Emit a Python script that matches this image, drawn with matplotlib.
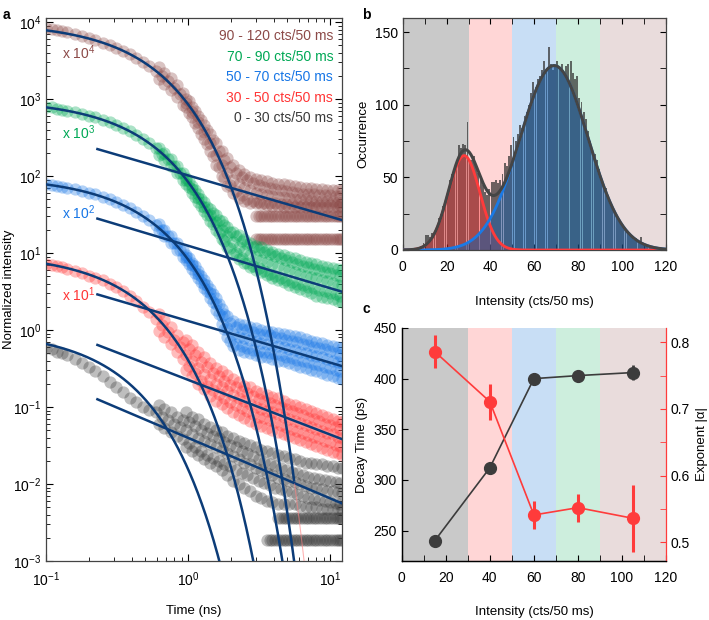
import numpy as np
import matplotlib
matplotlib.use('Agg')
import matplotlib.pyplot as plt
from matplotlib.ticker import LogLocator, MultipleLocator, NullFormatter

plt.rcParams['font.family'] = ['Liberation Sans', 'DejaVu Sans']
plt.rcParams['mathtext.fontset'] = 'custom'
plt.rcParams['mathtext.rm'] = 'Liberation Sans'
plt.rcParams['mathtext.it'] = 'Liberation Sans:italic'
plt.rcParams['mathtext.bf'] = 'Liberation Sans:bold'
plt.rcParams['font.size'] = 10
plt.rcParams['axes.linewidth'] = 0.9

# intensity groups (0-30, 30-50, 50-70, 70-90, 90-120 cts/50 ms)
groups = ['0 - 30 cts/50 ms', '30 - 50 cts/50 ms', '50 - 70 cts/50 ms',
          '70 - 90 cts/50 ms', '90 - 120 cts/50 ms']
colors = ['#3a3a3a', '#ff3535', '#1776e6', '#00a855', '#8c4a48']
scales = [1, 10, 100, 1000, 10000]
scale_labels = ['', 'x 10$^1$', 'x 10$^2$', 'x 10$^3$', 'x 10$^4$']
band_edges = [0, 30, 50, 70, 90, 120]
band_colors = ['#c9c9c9', '#ffd6d6', '#c8def5', '#cdeedd', '#e9dcdc']

# panel c: fit results per group
c_x = [15, 40, 60, 80, 105]
decay_ps = [240, 312, 400, 403, 406]
decay_err = [2, 3, 3, 4, 7]
alpha_exp = [0.786, 0.711, 0.541, 0.552, 0.536]
alpha_err = [0.025, 0.027, 0.021, 0.021, 0.05]

# power-law tails: normalized amplitude at t0
pl_t0 = 0.23
pl_amp = [0.126, 0.064, 0.029, 0.028, 0.0224]

# panel a: normalized decays
t_ns = [0.10, 0.11, 0.12, 0.13, 0.14, 0.16, 0.18, 0.20, 0.22, 0.25,
        0.28, 0.31, 0.35, 0.39, 0.43, 0.48, 0.53, 0.59, 0.65, 0.72,
        0.80, 0.88, 0.97, 1.07, 1.18, 1.30, 1.43, 1.57, 1.72, 1.89,
        2.07, 2.27, 2.49, 2.73, 2.99, 3.27, 3.58, 3.92, 4.29, 4.69,
        5.13, 5.61, 6.13, 6.70, 7.32, 8.00, 8.74, 9.55, 10.4, 11.4, 12.0]
t_tail = t_ns[22:]
t_mid = [0.62, 0.68, 0.76, 0.84, 0.92, 1.02, 1.12, 1.24, 1.36, 1.50,
         1.64, 1.80, 1.98, 2.17, 2.38, 2.61, 2.86, 3.13, 3.42, 3.75,
         4.10, 4.49, 4.90, 5.36, 5.86, 6.41, 7.00, 7.65, 8.36, 9.14,
         9.97, 10.9, 11.7]

black_mid = [0.58, 0.56, 0.52, 0.50, 0.47, 0.42, 0.37, 0.33, 0.29, 0.25,
             0.21, 0.18, 0.155, 0.13, 0.115, 0.10, 0.092, 0.085, 0.075, 0.068,
             0.060, 0.055,
             0.050, 0.045, 0.040, 0.036, 0.033, 0.030, 0.028, 0.025, 0.023, 0.021,
             0.019, 0.018, 0.016, 0.015, 0.014, 0.013, 0.012, 0.0115, 0.011, 0.0105,
             0.010, 0.0095, 0.009, 0.0088, 0.0085, 0.0082, 0.008, 0.0078, 0.0077]
red_mid = [0.72, 0.70, 0.67, 0.65, 0.62, 0.58, 0.55, 0.51, 0.48, 0.44,
           0.40, 0.36, 0.32, 0.28, 0.24, 0.20, 0.17, 0.14, 0.115, 0.095,
           0.075, 0.06,
           0.048, 0.04, 0.032, 0.027, 0.023, 0.020, 0.018, 0.016, 0.0145, 0.013,
           0.012, 0.011, 0.010, 0.0095, 0.009, 0.0085, 0.008, 0.0075, 0.007, 0.0066,
           0.0062, 0.0058, 0.0055, 0.0052, 0.0049, 0.0046, 0.0044, 0.0041, 0.004]
blue_mid = [0.78, 0.76, 0.74, 0.72, 0.70, 0.67, 0.64, 0.61, 0.58, 0.54,
            0.50, 0.46, 0.42, 0.38, 0.34, 0.30, 0.265, 0.23, 0.197, 0.165,
            0.135, 0.11,
            0.088, 0.069, 0.053, 0.040, 0.030, 0.022, 0.015, 0.0105, 0.0088, 0.0082,
            0.0078, 0.0074, 0.0071, 0.0068, 0.0066, 0.0064, 0.0062, 0.006, 0.0057, 0.0055,
            0.0052, 0.005, 0.0048, 0.0046, 0.0044, 0.0042, 0.004, 0.0038, 0.0037]
green_mid = [0.80, 0.78, 0.75, 0.73, 0.71, 0.67, 0.64, 0.61, 0.58, 0.54,
             0.50, 0.46, 0.42, 0.38, 0.34, 0.30, 0.265, 0.23, 0.195, 0.165,
             0.135, 0.11,
             0.088, 0.068, 0.052, 0.040, 0.031, 0.025, 0.020, 0.0165, 0.014, 0.012,
             0.0105, 0.0095, 0.0088, 0.0082, 0.0077, 0.0072, 0.0068, 0.0064, 0.006, 0.0057,
             0.0054, 0.0051, 0.0049, 0.0047, 0.0045, 0.0043, 0.0041, 0.0039, 0.0038]
brown_mid = [0.84, 0.82, 0.79, 0.77, 0.74, 0.70, 0.66, 0.62, 0.58, 0.54,
             0.50, 0.46, 0.42, 0.38, 0.34, 0.30, 0.27, 0.23, 0.20, 0.17,
             0.14, 0.115,
             0.088, 0.068, 0.05, 0.037, 0.027, 0.019, 0.014, 0.011, 0.009, 0.0078,
             0.007, 0.0065, 0.006, 0.0058, 0.0056, 0.0055, 0.0054, 0.0053, 0.0052, 0.0051,
             0.005, 0.005, 0.0049, 0.0048, 0.0048, 0.0047, 0.0047, 0.0046, 0.0046]

# upper / lower edge of the noisy tail (t >= 0.97 ns)
black_hi = [0.085, 0.075, 0.07, 0.06, 0.055, 0.05, 0.047, 0.042, 0.04, 0.036,
            0.034, 0.032, 0.03, 0.028, 0.027, 0.025, 0.024, 0.023, 0.022, 0.021,
            0.02, 0.019, 0.019, 0.018, 0.018, 0.017, 0.017, 0.016, 0.016]
black_lo = [0.03, 0.027, 0.024, 0.021, 0.019, 0.017, 0.015, 0.013, 0.011, 0.010,
            0.009, 0.008, 0.007, 0.0065, 0.006, 0.0058, 0.0055, 0.0055, 0.0055, 0.0055,
            0.0052, 0.005, 0.005, 0.005, 0.0048, 0.0048, 0.0048, 0.0047, 0.0047]
red_hi = [0.075, 0.064, 0.052, 0.044, 0.037, 0.032, 0.029, 0.026, 0.023, 0.021,
          0.019, 0.018, 0.016, 0.015, 0.0145, 0.0135, 0.013, 0.012, 0.011, 0.0105,
          0.010, 0.0093, 0.0088, 0.0083, 0.0078, 0.0074, 0.007, 0.0066, 0.0064]
red_lo = [0.03, 0.025, 0.02, 0.017, 0.014, 0.012, 0.011, 0.0097, 0.0087, 0.0078,
          0.0072, 0.0066, 0.006, 0.0057, 0.0054, 0.0051, 0.0048, 0.0045, 0.0042, 0.004,
          0.0037, 0.0035, 0.0033, 0.0031, 0.0029, 0.0028, 0.0026, 0.0025, 0.0024]
blue_hi = [0.095, 0.075, 0.058, 0.044, 0.034, 0.026, 0.019, 0.015, 0.013, 0.012,
           0.0115, 0.011, 0.0105, 0.010, 0.0098, 0.0095, 0.0092, 0.009, 0.0086, 0.0083,
           0.008, 0.0076, 0.0073, 0.007, 0.0067, 0.0064, 0.0062, 0.006, 0.0058]
blue_lo = [0.08, 0.062, 0.047, 0.035, 0.026, 0.018, 0.012, 0.008, 0.0062, 0.0055,
           0.0052, 0.005, 0.0047, 0.0045, 0.0044, 0.0042, 0.004, 0.0039, 0.0037, 0.0035,
           0.0033, 0.0032, 0.003, 0.0029, 0.0028, 0.0026, 0.0025, 0.0024, 0.0023]
green_hi = [0.095, 0.075, 0.058, 0.046, 0.037, 0.031, 0.026, 0.022, 0.019, 0.017,
            0.015, 0.0135, 0.0125, 0.0118, 0.011, 0.0104, 0.0098, 0.0094, 0.009, 0.0085,
            0.0081, 0.0077, 0.0074, 0.0071, 0.0068, 0.0066, 0.0064, 0.0062, 0.006]
green_lo = [0.08, 0.061, 0.046, 0.035, 0.026, 0.020, 0.015, 0.012, 0.0098, 0.0084,
            0.0074, 0.0066, 0.006, 0.0056, 0.0052, 0.0048, 0.0045, 0.0042, 0.0039, 0.0036,
            0.0034, 0.0032, 0.0030, 0.0028, 0.0027, 0.0026, 0.0025, 0.0024, 0.0023]
brown_hi = [0.1, 0.078, 0.06, 0.046, 0.035, 0.027, 0.021, 0.017, 0.014, 0.012,
            0.0105, 0.0098, 0.0092, 0.0088, 0.0085, 0.0082, 0.008, 0.0078, 0.0076, 0.0074,
            0.0072, 0.007, 0.0069, 0.0068, 0.0067, 0.0066, 0.0066, 0.0065, 0.0065]
brown_lo = [0.078, 0.058, 0.042, 0.03, 0.021, 0.014, 0.01, 0.0075, 0.006, 0.0052,
            0.0047, 0.0045, 0.0044, 0.0043, 0.0042, 0.0041, 0.0041, 0.004, 0.004, 0.004,
            0.004, 0.004, 0.004, 0.004, 0.004, 0.004, 0.004, 0.004, 0.004]

# in-between points of the band, on the staggered time grid t_mid
black_up = [0.105, 0.095, 0.085, 0.075, 0.068, 0.063, 0.057, 0.051, 0.046, 0.042,
            0.039, 0.035, 0.032, 0.03, 0.027, 0.025, 0.023, 0.021, 0.0195, 0.018,
            0.017, 0.016, 0.015, 0.0145, 0.0138, 0.0132, 0.0125, 0.012, 0.0116, 0.0112,
            0.011, 0.0107, 0.0104]
black_dn = [0.06, 0.053, 0.047, 0.042, 0.038, 0.034, 0.03, 0.027, 0.024, 0.022,
            0.02, 0.018, 0.017, 0.015, 0.014, 0.013, 0.012, 0.011, 0.0104, 0.0097,
            0.009, 0.0085, 0.008, 0.0078, 0.0074, 0.007, 0.0066, 0.0064, 0.0062, 0.006,
            0.0058, 0.0057, 0.0055]
red_up = [0.16, 0.135, 0.11, 0.087, 0.07, 0.057, 0.047, 0.038, 0.033, 0.028,
          0.025, 0.022, 0.0195, 0.018, 0.016, 0.015, 0.0137, 0.0126, 0.012, 0.0113,
          0.0107, 0.01, 0.0094, 0.0088, 0.0083, 0.0078, 0.0073, 0.0069, 0.0065, 0.0061,
          0.0059, 0.0055, 0.0052]
red_dn = [0.098, 0.081, 0.065, 0.052, 0.042, 0.034, 0.028, 0.022, 0.019, 0.0166,
          0.0146, 0.0131, 0.0116, 0.0105, 0.0096, 0.0089, 0.0081, 0.0075, 0.0071, 0.0067,
          0.0063, 0.0059, 0.0055, 0.0052, 0.0049, 0.0046, 0.0043, 0.0041, 0.0039, 0.0036,
          0.0035, 0.0032, 0.0031]
blue_up = [0.235, 0.198, 0.165, 0.134, 0.109, 0.086, 0.067, 0.051, 0.039, 0.029,
           0.022, 0.016, 0.0125, 0.011, 0.0104, 0.0099, 0.0094, 0.009, 0.0087, 0.0085,
           0.0082, 0.0079, 0.0075, 0.0073, 0.0069, 0.0066, 0.0064, 0.0061, 0.0059, 0.0056,
           0.0053, 0.0051, 0.0048]
blue_dn = [0.194, 0.164, 0.136, 0.111, 0.09, 0.071, 0.055, 0.042, 0.032, 0.023,
           0.016, 0.0102, 0.0073, 0.0065, 0.0062, 0.0058, 0.0055, 0.0053, 0.0052, 0.005,
           0.0049, 0.0047, 0.0045, 0.0043, 0.0041, 0.0039, 0.0038, 0.0036, 0.0035, 0.0033,
           0.0032, 0.003, 0.0029]
green_up = [0.23, 0.198, 0.165, 0.134, 0.109, 0.086, 0.066, 0.051, 0.04, 0.033,
            0.027, 0.023, 0.019, 0.0165, 0.0145, 0.013, 0.0118, 0.011, 0.0103, 0.0096,
            0.0091, 0.0086, 0.0081, 0.0076, 0.0072, 0.0068, 0.0065, 0.0062, 0.006, 0.0057,
            0.0055, 0.0052, 0.005]
green_dn = [0.19, 0.163, 0.136, 0.111, 0.09, 0.071, 0.054, 0.041, 0.031, 0.024,
            0.018, 0.0142, 0.0117, 0.0099, 0.0085, 0.0075, 0.0068, 0.0063, 0.0058, 0.0054,
            0.0051, 0.0048, 0.0045, 0.0042, 0.004, 0.0038, 0.0036, 0.0035, 0.0033, 0.0032,
            0.003, 0.0029, 0.0028]
brown_up = [0.26, 0.22, 0.186, 0.152, 0.12, 0.094, 0.071, 0.053, 0.04, 0.029,
            0.021, 0.016, 0.013, 0.011, 0.0098, 0.0088, 0.0082, 0.0077, 0.0073, 0.007,
            0.0068, 0.0066, 0.0064, 0.0062, 0.006, 0.0059, 0.0058, 0.0058, 0.0057, 0.0056,
            0.0056, 0.0055, 0.0055]
brown_dn = [0.18, 0.155, 0.13, 0.106, 0.084, 0.065, 0.049, 0.035, 0.026, 0.018,
            0.013, 0.0095, 0.0076, 0.0064, 0.0056, 0.0051, 0.0048, 0.0046, 0.0045, 0.0044,
            0.0044, 0.0043, 0.0043, 0.0043, 0.0042, 0.0042, 0.0042, 0.0042, 0.0042, 0.0042,
            0.0042, 0.0042, 0.0042]

mids = [black_mid, red_mid, blue_mid, green_mid, brown_mid]
his = [black_hi, red_hi, blue_hi, green_hi, brown_hi]
los = [black_lo, red_lo, blue_lo, green_lo, brown_lo]
ups = [black_up, red_up, blue_up, green_up, brown_up]
dns = [black_dn, red_dn, blue_dn, green_dn, brown_dn]

# single/double photon count levels in the tail
floor_group = [0, 0, 4, 4]
floor_level = [0.0036, 0.0019, 0.0030, 0.0015]
floor_start = [4.2, 3.5, 2.9, 2.9]

# panel b: intensity histogram (1 cts bins, 0..119)
hist_counts = [0, 0, 0, 0, 0, 1, 1, 2, 3, 5,
               10, 10, 9, 12, 13, 16, 22, 25, 30, 35,
               40, 48, 52, 55, 60, 72, 70, 73, 72, 88,
               62, 62, 65, 58, 53, 50, 45, 40, 38, 42,
               47, 47, 48, 46, 48, 52, 60, 58, 65, 72,
               78, 75, 80, 86, 84, 92, 95, 100, 108, 116,
               112, 118, 120, 124, 130, 125, 140, 128, 124, 126,
               130, 125, 128, 122, 127, 128, 130, 122, 118, 120,
               105, 102, 95, 90, 82, 75, 70, 66, 62, 56,
               50, 46, 43, 38, 34, 30, 27, 22, 20, 18,
               15, 13, 12, 10, 9, 7, 8, 6, 9, 5,
               4, 3, 2, 2, 1, 1, 0, 1, 0, 0]
gauss_amp = [65, 127]
gauss_mu = [28, 69]
gauss_sigma = [7.2, 15.5]

navy = '#0c3c78'

fig = plt.figure(figsize=(7.09, 6.20), dpi=100)
ax_a = fig.add_axes([0.0649, 0.0952, 0.4175, 0.8758])
ax_b = fig.add_axes([0.568, 0.5968, 0.3714, 0.3747])
ax_c = fig.add_axes([0.5666, 0.0952, 0.3728, 0.3758])

# ---------------- panel a ----------------
for i in [4, 3, 2, 1, 0]:
    s = scales[i]
    kw = dict(s=78, color=colors[i], alpha=0.33, linewidths=0, zorder=2)
    ax_a.scatter(t_ns, np.array(mids[i]) * s, **kw)
    ax_a.scatter(t_tail, np.array(his[i]) * s, **kw)
    ax_a.scatter(t_tail, np.array(los[i]) * s, **kw)
    ax_a.scatter(t_mid, np.array(ups[i]) * s, **kw)
    ax_a.scatter(t_mid, np.array(dns[i]) * s, **kw)
    for g, lvl, t0 in zip(floor_group, floor_level, floor_start):
        if g == i:
            tf = [tv for tv in t_ns + t_mid if tv >= t0]
            ax_a.scatter(tf, [lvl * s] * len(tf), **kw)

tt = np.logspace(-1, np.log10(12.1), 600)
for i in range(5):
    y = scales[i] * np.exp(-tt / (decay_ps[i] / 1000.0))
    if i == 4:
        ax_a.plot(tt[y >= 0.01], y[y >= 0.01], color=navy, lw=1.8, zorder=4)
        ax_a.plot(tt[y < 0.01], y[y < 0.01], color='#ff8080', lw=0.8, alpha=0.6, zorder=4)
    else:
        ax_a.plot(tt, y, color=navy, lw=1.8, zorder=4)
    tp = np.logspace(np.log10(pl_t0), np.log10(12.1), 100)
    ax_a.plot(tp, pl_amp[i] * scales[i] * (tp / pl_t0) ** (-alpha_exp[i]),
              color=navy, lw=1.8, zorder=4)

ax_a.set_xscale('log')
ax_a.set_yscale('log')
ax_a.set_xlim(0.1, 12.1)
ax_a.set_ylim(1e-3, 1.13e4)
ax_a.yaxis.set_major_locator(LogLocator(base=10, numticks=20))
ax_a.yaxis.set_minor_locator(LogLocator(base=10, subs=np.arange(2, 10), numticks=20))
ax_a.yaxis.set_minor_formatter(NullFormatter())
ax_a.xaxis.set_minor_formatter(NullFormatter())
ax_a.tick_params(which='both', direction='in', top=True, right=True, labelsize=10)
ax_a.tick_params(which='major', length=5)
ax_a.tick_params(which='minor', length=3)
ax_a.tick_params(axis='x', pad=7)
ax_a.set_xlabel('Time (ns)', fontsize=9.5)
ax_a.set_ylabel('Normalized intensity', fontsize=9.5)
ax_a.xaxis.set_label_coords(0.5, -0.081)
ax_a.yaxis.set_label_coords(-0.106, 0.5)

label_pos = [None, (0.13, 2.85), (0.13, 33), (0.13, 370), (0.13, 4000)]
for i in range(1, 5):
    ax_a.text(label_pos[i][0], label_pos[i][1], scale_labels[i], color=colors[i],
              fontsize=10, va='center', ha='left', zorder=5)
legend_y = [0.816, 0.852, 0.891, 0.928, 0.967]
for i in range(5):
    ax_a.text(0.97, legend_y[i], groups[i], color=colors[i], fontsize=10,
              ha='right', va='center', transform=ax_a.transAxes, zorder=5)

# ---------------- panel b ----------------
for k in range(5):
    ax_b.axvspan(band_edges[k], band_edges[k + 1], color=band_colors[k], lw=0, zorder=0)
ax_b.bar(np.arange(120) + 0.5, hist_counts, width=0.85, color='#333333', alpha=0.72,
         lw=0, zorder=1)
xx = np.linspace(0, 120, 800)
g_red = gauss_amp[0] * np.exp(-(xx - gauss_mu[0]) ** 2 / (2 * gauss_sigma[0] ** 2))
g_blue = gauss_amp[1] * np.exp(-(xx - gauss_mu[1]) ** 2 / (2 * gauss_sigma[1] ** 2))
ax_b.fill_between(xx, 0, g_red, color='#ff3030', alpha=0.42, lw=0, zorder=2)
ax_b.fill_between(xx, 0, g_blue, color='#1c5fa6', alpha=0.55, lw=0, zorder=2)
ax_b.plot(xx, g_red, color='#ff3b3b', lw=2, zorder=3)
ax_b.plot(xx, g_blue, color='#1a7ae6', lw=2, zorder=3)
ax_b.plot(xx, g_red + g_blue, color='#454545', lw=2.2, zorder=4)
ax_b.set_xlim(0, 120)
ax_b.set_ylim(0, 160)
ax_b.xaxis.set_major_locator(MultipleLocator(20))
ax_b.xaxis.set_minor_locator(MultipleLocator(10))
ax_b.yaxis.set_major_locator(MultipleLocator(50))
ax_b.yaxis.set_minor_locator(MultipleLocator(25))
ax_b.tick_params(which='both', direction='in', top=True, right=True, labelsize=10)
ax_b.tick_params(which='both', length=4)
ax_b.tick_params(axis='x', pad=7)
ax_b.set_xlabel('Intensity (cts/50 ms)', fontsize=9.5)
ax_b.set_ylabel('Occurrence', fontsize=9.5)
ax_b.xaxis.set_label_coords(0.5, -0.198)
ax_b.yaxis.set_label_coords(-0.128, 0.5)

# ---------------- panel c ----------------
for k in range(5):
    ax_c.axvspan(band_edges[k], band_edges[k + 1], color=band_colors[k], lw=0, zorder=0)
ax_c.errorbar(c_x, decay_ps, yerr=decay_err, fmt='o-', color='#3c3c3c', ms=8.5,
              lw=1.2, elinewidth=2, capsize=0, zorder=3)
ax_c.set_xlim(0, 120)
ax_c.set_ylim(220, 450)
ax_c.xaxis.set_major_locator(MultipleLocator(20))
ax_c.xaxis.set_minor_locator(MultipleLocator(10))
ax_c.yaxis.set_major_locator(MultipleLocator(50))
ax_c.tick_params(which='both', direction='in', labelsize=10, length=4)
ax_c.tick_params(axis='x', pad=7)
ax_c.spines['top'].set_visible(False)
ax_c.spines['right'].set_visible(False)
ax_c.set_xlabel('Intensity (cts/50 ms)', fontsize=9.5)
ax_c.set_ylabel('Decay Time (ps)', fontsize=9.5)
ax_c.xaxis.set_label_coords(0.5, -0.193)
ax_c.yaxis.set_label_coords(-0.128, 0.5)

ax_r = ax_c.twinx()
ax_r.errorbar(c_x, alpha_exp, yerr=alpha_err, fmt='o-', color='#ff3b3b', ms=8.5,
              lw=1.2, elinewidth=2.2, capsize=0, zorder=3)
ax_r.set_ylim(0.472, 0.8215)
ax_r.yaxis.set_major_locator(MultipleLocator(0.1))
ax_r.yaxis.set_minor_locator(MultipleLocator(0.05))
ax_r.spines['top'].set_visible(False)
ax_r.spines['right'].set_color('#ff3b3b')
ax_r.tick_params(axis='y', which='both', direction='in', color='#ff3b3b',
                 labelcolor='black', labelsize=10, length=4)
ax_r.set_ylabel('Exponent |α|', fontsize=9.5)
ax_r.yaxis.set_label_coords(1.112, 0.5)

for ax in (ax_a, ax_b):
    for sp in ax.spines.values():
        sp.set_color('#444444')

fig.text(0.004, 0.987, 'a', fontsize=10, fontweight='bold', va='top')
fig.text(0.511, 0.987, 'b', fontsize=10, fontweight='bold', va='top')
fig.text(0.511, 0.513, 'c', fontsize=10, fontweight='bold', va='top')

fig.savefig('out.png', dpi=100)
